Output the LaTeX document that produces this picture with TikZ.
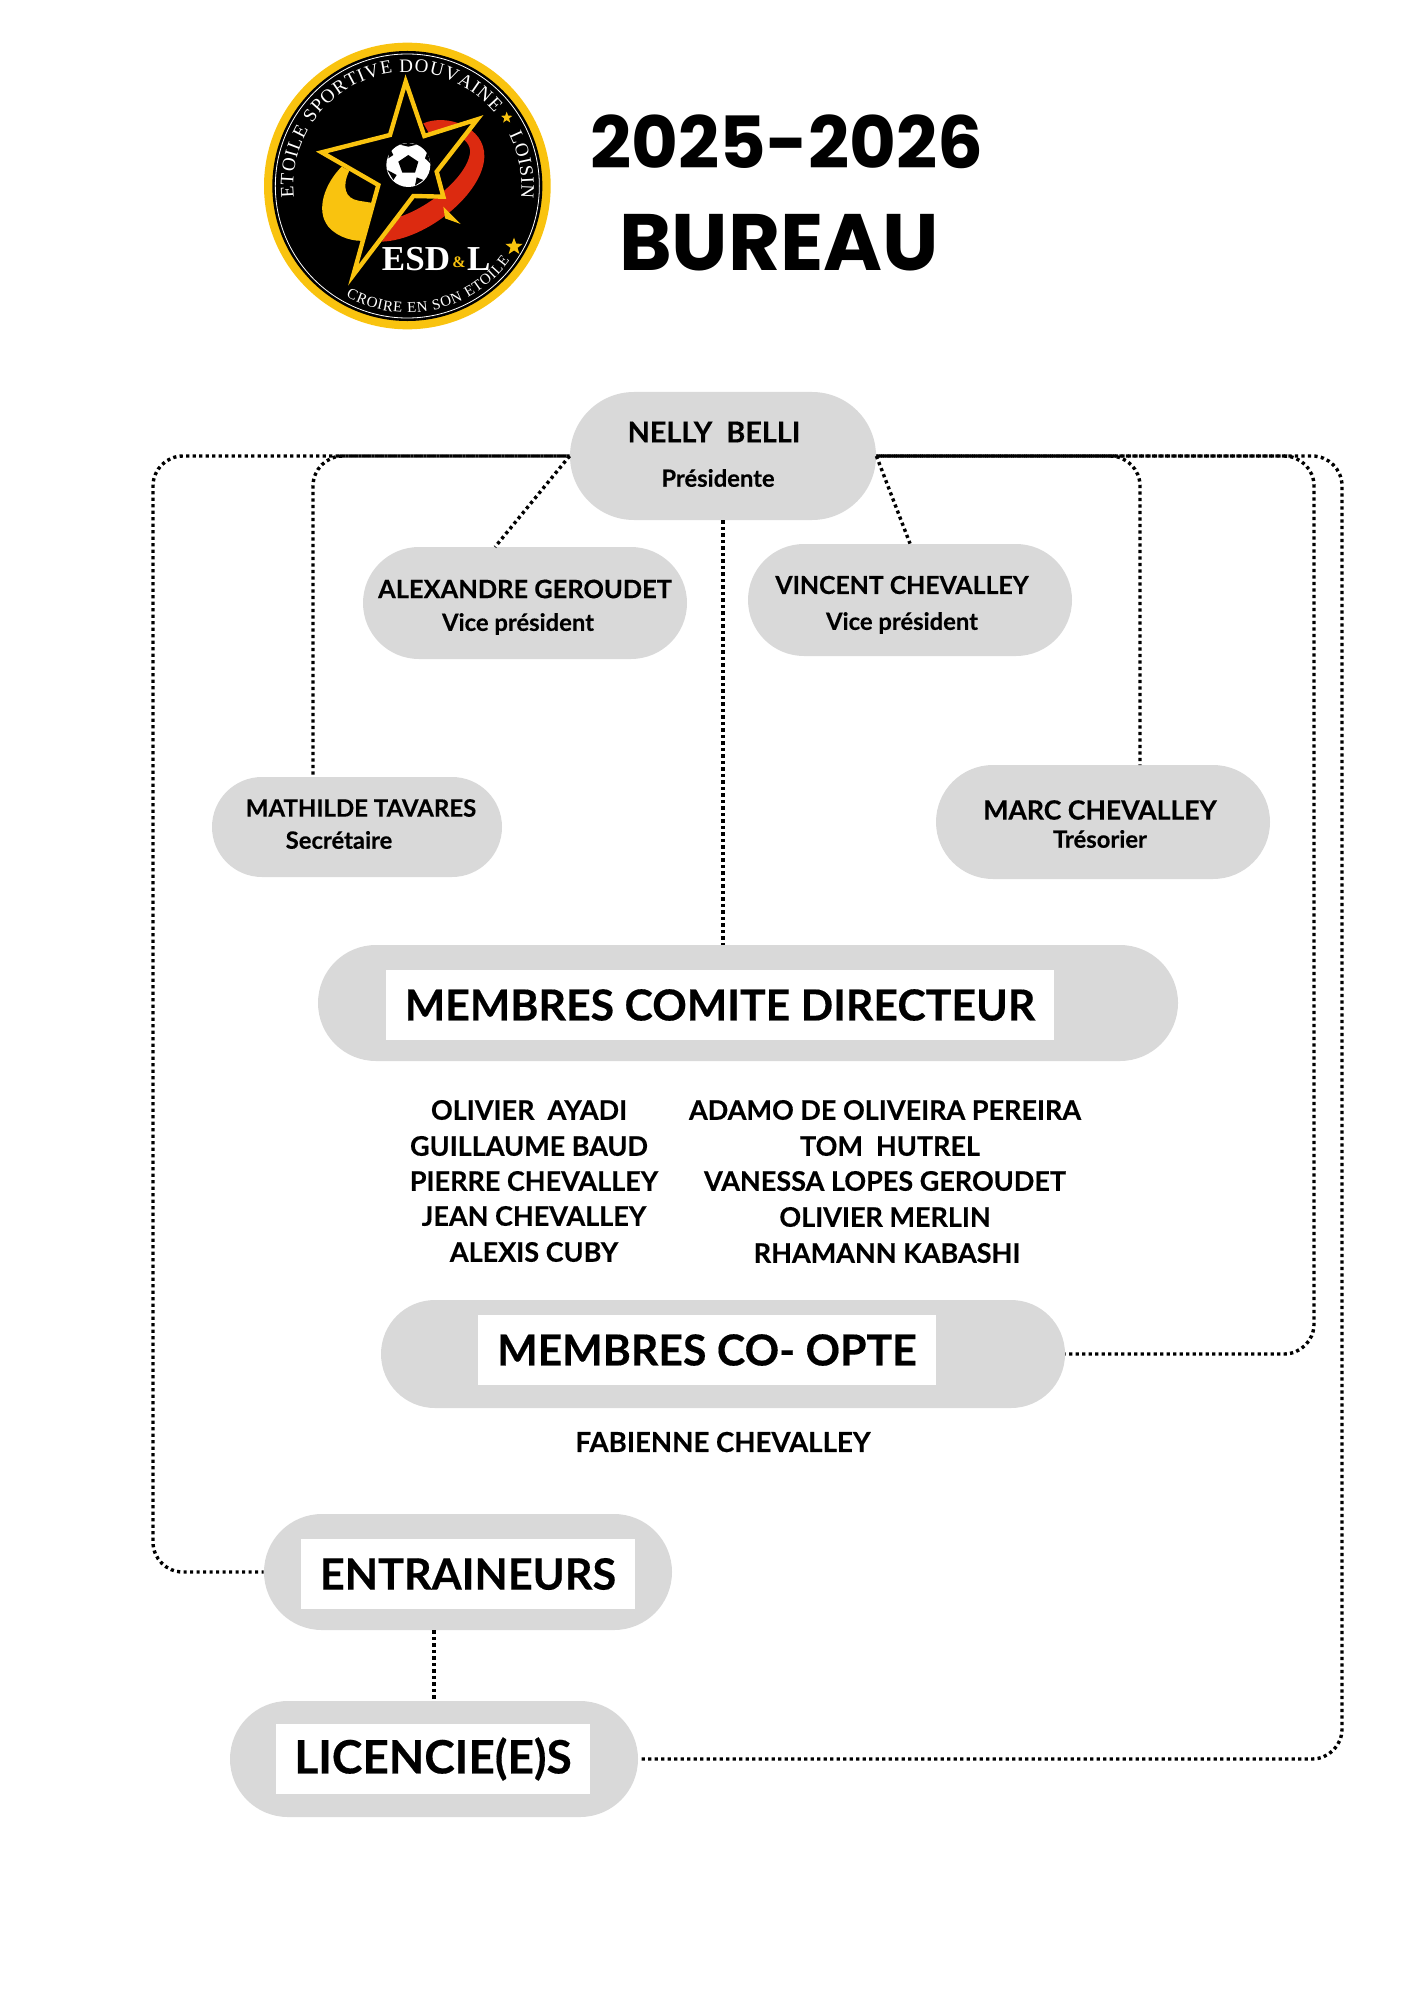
\documentclass[tikz,border=0pt]{standalone}
\usepackage{fontspec}
\usepackage{xcolor}
\usepackage{tikz}
\usetikzlibrary{shapes.misc, shapes.geometric, decorations.text}
\setmainfont{Lato}[BoldFeatures={FakeBold=0.35}]
\newfontfamily\titlefont{Poppins}
\newfontfamily\logofont{Liberation Serif}
\definecolor{pillgray}{HTML}{D9D9D9}
\definecolor{logoyellow}{HTML}{F9C30F}
\definecolor{logored}{HTML}{DC2A10}
\tikzset{
    pill/.style={rounded rectangle, fill=pillgray, inner sep=0pt},
    whitebox/.style={fill=white, inner sep=0pt, font=\bfseries\fontsize{#1}{25}\selectfont},
    dotlink/.style={line width=1.7pt, dash pattern=on 1.6pt off 1.65pt, rounded corners=15pt},
    namelabel/.style={font=\bfseries\fontsize{#1}{16}\selectfont, inner sep=0pt},
    rolelabel/.style={font=\bfseries\fontsize{11.9}{14}\selectfont, inner sep=0pt},
    listlabel/.style={font=\bfseries\fontsize{13.5}{16}\selectfont, inner sep=0pt},
    titlelabel/.style={font=\titlefont\bfseries\fontsize{#1}{44}\selectfont, inner sep=0pt},
    ringtext/.style={decorate, decoration={text along path, text align={fit to path}, text={#1}}}
}

\begin{document}
\begin{tikzpicture}[x=0.5pt, y=-0.5pt]
    \useasboundingbox (0,0) rectangle (1414,2000);

    % Logo (coordinates of the crop, three times the size)
    \begin{scope}[shift={(240,20)}, x=0.16667pt, y=-0.16667pt]
        \fill[logoyellow] (502,498) circle (430);
        \fill[black] (502,498) circle (405);
        \draw[white, line width=0.4pt] (502,498) circle (396);

        % Yellow swoosh
        \fill[logoyellow] (305,440) .. controls (255,490) and (225,570) .. (265,620)
            .. controls (295,655) and (345,665) .. (375,662) -- (405,550) -- (355,542)
            .. controls (315,535) and (305,500) .. (328,452) -- cycle;
        % Red swoosh
        \fill[logored] (550,310) .. controls (620,280) and (735,320) .. (733,410)
            .. controls (730,520) and (560,660) .. (425,665) -- (480,590)
            .. controls (570,560) and (680,470) .. (690,400)
            .. controls (695,350) and (620,325) .. (570,345) -- cycle;
        % Star
        \draw[logoyellow, line width=2.2pt, miter limit=20, fill=black] (497,185) -- (553,348) -- (712,298)
            -- (590,455) -- (610,530) -- (520,528) -- (340,765) -- (415,495)
            -- (245,397) -- (450,345) -- cycle;
        \fill[logoyellow] (610,560) -- (662,612) -- (615,595) -- cycle;

        % Ball
        \fill[white] (505,435) circle (66);
        \fill[black] (505,405) -- (535,425) -- (525,458) -- (487,458) -- (475,425) -- cycle;
        \fill[black] (505,369) -- (530,374) -- (505,380) -- (480,374) -- cycle;
        \fill[black] (562,395) -- (571,430) -- (555,415) -- cycle;
        \fill[black] (445,415) -- (450,385) -- (460,405) -- cycle;
        \fill[black] (460,480) -- (442,450) -- (470,465) -- cycle;
        \fill[black] (550,480) -- (525,497) -- (530,472) -- cycle;

        % Logo texts
        \path[ringtext={|\logofont\fontsize{9.5}{10}\selectfont\color{white}|ETOILE SPORTIVE DOUVAINE}]
            (502,498) ++(174:342) arc (174:320:342);
        \path[ringtext={|\logofont\fontsize{9.5}{10}\selectfont\color{white}|LOISIN}]
            (502,498) ++(333:342) arc (333:366:342);
        \path[ringtext={|\logofont\fontsize{7.5}{8}\selectfont\color{white}|CROIRE EN SON ETOILE}]
            (502,498) ++(119:380) arc (119:36:380);
        \node[star, star points=5, star point ratio=2.4, fill=logoyellow, inner sep=0pt, minimum size=6pt] (starSmall) at (800,293) {};
        \node[star, star points=5, star point ratio=2.4, fill=logoyellow, inner sep=0pt, minimum size=9pt] (starBig) at (822,680) {};
        \node[inner sep=0pt, text=white, font=\logofont\bfseries\fontsize{17.5}{18}\selectfont] (esd) at (528,718) {ESD};
        \node[inner sep=0pt, text=logoyellow, font=\logofont\bfseries\fontsize{8}{8}\selectfont] (esdAnd) at (657,728) {\&};
        \node[inner sep=0pt, text=white, font=\logofont\bfseries\fontsize{17.5}{18}\selectfont] (esdL) at (716,718) {L};
    \end{scope}

    % Title
    \node[titlelabel=36] (titleYear) at (787,142) {2025-2026};
    \node[titlelabel=40] (titleBureau) at (779,243) {BUREAU};

    % Bureau
    \node[pill, minimum width=153pt, minimum height=64pt] (nelly) at (723,456) {};
    \node[pill, minimum width=162pt, minimum height=56pt] (alexandre) at (525,603) {};
    \node[pill, minimum width=162pt, minimum height=56pt] (vincent) at (910,600) {};
    \node[pill, minimum width=145pt, minimum height=50pt] (mathilde) at (357,827) {};
    \node[pill, minimum width=167pt, minimum height=57pt] (marc) at (1103,822) {};

    \node[namelabel=14.4] (nellyName) at (714,432) {NELLY\ \ BELLI};
    \node[rolelabel] (nellyRole) at (718,478) {Présidente};
    \node[namelabel=12.7] (alexandreName) at (525,589) {ALEXANDRE GEROUDET};
    \node[rolelabel] (alexandreRole) at (518,624) {Vice président};
    \node[namelabel=12.4] (vincentName) at (902,585) {VINCENT CHEVALLEY};
    \node[rolelabel] (vincentRole) at (902,623) {Vice président};
    \node[namelabel=12] (mathildeName) at (361,808) {MATHILDE TAVARES};
    \node[rolelabel] (mathildeRole) at (339,840) {Secrétaire};
    \node[namelabel=13.3] (marcName) at (1100,810) {MARC CHEVALLEY};
    \node[rolelabel] (marcRole) at (1100,839) {Trésorier};

    % Groups
    \node[pill, minimum width=430pt, minimum height=58pt] (comite) at (748,1003) {};
    \node[whitebox=21.4, minimum width=334pt, minimum height=35pt] (comiteTitle) at (720,1005) {MEMBRES COMITE DIRECTEUR};
    \node[pill, minimum width=342pt, minimum height=54pt] (coopte) at (723,1354) {};
    \node[whitebox=21.4, minimum width=229pt, minimum height=35pt] (cooptebox) at (707,1350) {MEMBRES CO- OPTE};
    \node[pill, minimum width=204pt, minimum height=58pt] (entraineurs) at (468,1572) {};
    \node[whitebox=21.6, minimum width=167pt, minimum height=35pt] (entraineursTitle) at (468,1574) {ENTRAINEURS};
    \node[pill, minimum width=204pt, minimum height=58pt] (licencies) at (434,1759) {};
    \node[whitebox=23, minimum width=157pt, minimum height=35pt] (licenciesTitle) at (433,1759) {LICENCIE(E)S};

    % Members
    \node[listlabel] (memberA) at (529,1110) {OLIVIER\ \ AYADI};
    \node[listlabel] (memberB) at (529,1146) {GUILLAUME BAUD};
    \node[listlabel] (memberC) at (534,1181) {PIERRE CHEVALLEY};
    \node[listlabel] (memberD) at (534,1216) {JEAN CHEVALLEY};
    \node[listlabel] (memberE) at (534,1252) {ALEXIS CUBY};
    \node[listlabel] (memberF) at (885,1110) {ADAMO DE OLIVEIRA PEREIRA};
    \node[listlabel] (memberG) at (890,1146) {TOM\ \ HUTREL};
    \node[listlabel] (memberH) at (885,1181) {VANESSA LOPES GEROUDET};
    \node[listlabel] (memberI) at (885,1217) {OLIVIER MERLIN};
    \node[listlabel] (memberJ) at (887,1253) {RHAMANN KABASHI};
    \node[namelabel=13.8] (memberK) at (723,1442) {FABIENNE CHEVALLEY};

    % Connector ends
    \coordinate (alexandreTop) at (495,547);
    \coordinate (mathildeTop) at (313,776);
    \coordinate (marcTop) at (1140,765);
    \coordinate (cornerEntraineurs) at (153,1572);
    \coordinate (cornerCoopte) at (1314,1354);
    \coordinate (cornerLicencies) at (1342,1759);

    % Connectors
    \draw[dotlink] (nelly.west) -- (alexandreTop);
    \draw[dotlink] (nelly.west) -| (mathildeTop);
    \draw[dotlink, dash phase=1.6pt] (nelly.west) -| (cornerEntraineurs) -- (entraineurs.west);
    \draw[dotlink] (nelly.east) -- (vincent.north);
    \draw[dotlink] (nelly.east) -| (marcTop);
    \draw[dotlink, dash phase=1pt] (nelly.east) -| (cornerCoopte) -- (coopte.east);
    \draw[dotlink, dash phase=2pt] (nelly.east) -| (cornerLicencies) -- (licencies.east);
    \draw[dotlink] (nelly.south) -- (nelly.south |- comite.north);
    \draw[dotlink] (licencies.north |- entraineurs.south) -- (licencies.north);

\end{tikzpicture}
\end{document}
